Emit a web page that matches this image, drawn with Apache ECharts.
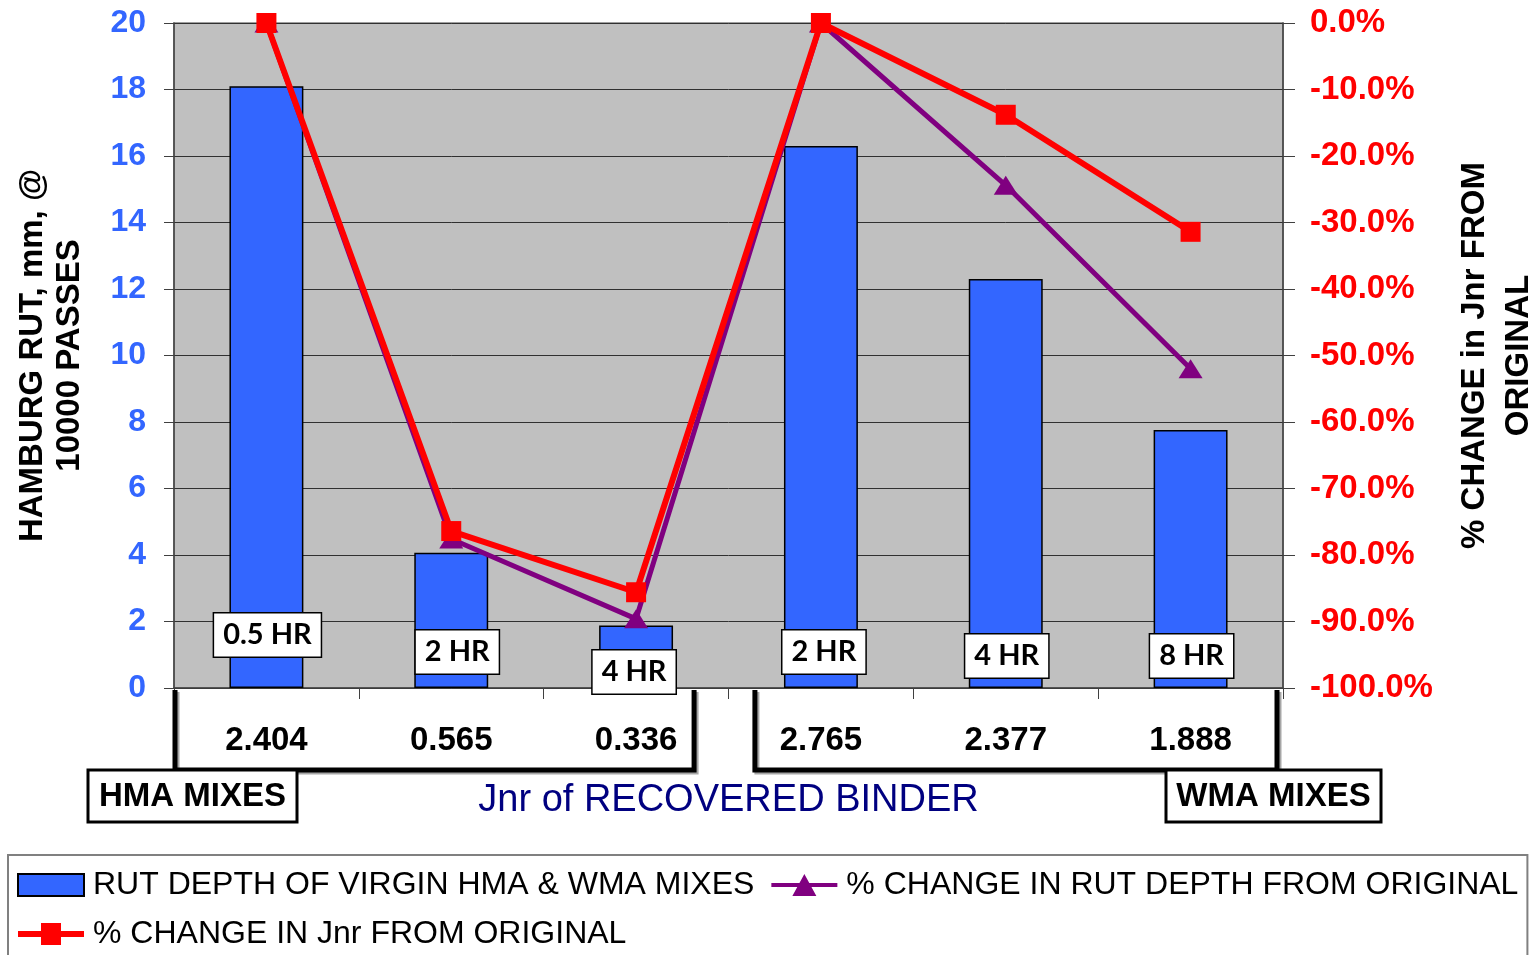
<!DOCTYPE html>
<html>
<head>
<meta charset="utf-8">
<script src="https://cdn.jsdelivr.net/npm/echarts@6/dist/echarts.min.js"></script>
<style>
  html, body { margin: 0; padding: 0; background: #fff; }
  #main { width: 1533px; height: 955px; }
</style>
</head>
<body>
<div id="main"></div>
<script type="text/javascript">
// Jnr of recovered binder (x-axis categories)
var categories = ['2.404', '0.565', '0.336', '2.765', '2.377', '1.888'];
// aging time shown in the boxes on the bars
var hrLabels = ['0.5 HR', '2 HR', '4 HR', '2 HR', '4 HR', '8 HR'];
// rut depth, mm (left axis)
var rutDepth = [18.1, 4.07, 1.88, 16.3, 12.3, 7.76];
// % change in rut depth from original (right axis)
var rutChange = [0, -77.6, -89.6, 0, -24.4, -52.0];
// % change in Jnr from original (right axis)
var jnrChange = [0, -76.4, -85.6, 0, -13.8, -31.4];

// label box shifts [dx, dy] from the bar bottom centre (layout only)
var labelShift = [[1, -53], [6, -36], [-2, -16], [3, -36], [1, -32], [1, -32]];

var AR = '"Liberation Sans", Arial, sans-serif';

var chart = echarts.init(document.getElementById('main'));

var barData = rutDepth.map(function (v, i) {
    return {
        value: v,
        label: { offset: labelShift[i] }
    };
});

var option = {
    animation: false,
    grid: {
        left: 174, right: 250, top: 23, bottom: 267,
        outerBoundsMode: 'none',
        containLabel: false,
        show: true,
        backgroundColor: '#C0C0C0',
        borderColor: '#808080',
        borderWidth: 1.5
    },
    legend: {
        left: 8, right: 3, top: 855,
        padding: [14, 9, 40, 9],
        itemWidth: 66, itemHeight: 22,
        itemGap: 17,
        borderColor: '#808080', borderWidth: 2,
        textStyle: { fontFamily: AR, fontSize: 32, color: '#000', padding: [0, 8, 0, 4] },
        data: [
            { name: 'RUT DEPTH OF VIRGIN HMA & WMA MIXES', icon: 'rect' },
            { name: '% CHANGE IN RUT DEPTH FROM ORIGINAL', icon: 'path://M0,9H66V13H0Z M33,0L45,22H21Z' },
            { name: '% CHANGE IN Jnr FROM ORIGINAL', icon: 'path://M0,8H66V14H0Z M23,0H43V22H23Z' }
        ]
    },
    xAxis: {
        type: 'category',
        data: categories,
        name: 'Jnr of RECOVERED BINDER',
        nameLocation: 'middle',
        nameGap: 94,
        nameTextStyle: { fontFamily: AR, fontSize: 38, color: '#000080' },
        axisLine: { lineStyle: { color: '#404040', width: 1.5 } },
        axisTick: { show: true, length: 11, lineStyle: { color: '#404040' } },
        axisLabel: { margin: 36, fontFamily: AR, fontWeight: 'bold', fontSize: 33, color: '#000' }
    },
    yAxis: [{
        type: 'value',
        min: 0, max: 20, interval: 2,
        name: 'HAMBURG RUT, mm, @\n10000 PASSES',
        nameLocation: 'middle',
        nameRotate: 90,
        nameGap: 86,
        nameTextStyle: { fontFamily: AR, fontWeight: 'bold', fontSize: 33, color: '#000', lineHeight: 37 },
        axisLine: { show: true, lineStyle: { color: '#404040', width: 1.5 } },
        axisTick: { show: true, length: 10, lineStyle: { color: '#404040' } },
        axisLabel: { margin: 28, fontFamily: AR, fontWeight: 'bold', fontSize: 32, color: '#3366FF' },
        splitLine: { show: true, lineStyle: { color: '#303030', width: 1 } }
    }, {
        type: 'value',
        min: -100, max: 0, interval: 10,
        position: 'right',
        name: '% CHANGE in Jnr FROM\nORIGINAL',
        nameLocation: 'middle',
        nameRotate: 90,
        nameGap: 170,
        nameTextStyle: { fontFamily: AR, fontWeight: 'bold', fontSize: 33, color: '#000', lineHeight: 44 },
        axisLine: { show: true, lineStyle: { color: '#404040', width: 1.5 } },
        axisTick: { show: true, length: 12, lineStyle: { color: '#404040' } },
        axisLabel: {
            margin: 27, fontFamily: AR, fontWeight: 'bold', fontSize: 33, color: '#FF0000',
            formatter: function (v) { return v.toFixed(1) + '%'; }
        },
        splitLine: { show: false }
    }],
    series: [{
        name: 'RUT DEPTH OF VIRGIN HMA & WMA MIXES',
        type: 'bar',
        yAxisIndex: 0,
        barWidth: '40%',
        data: barData,
        itemStyle: { color: '#3366FF', borderColor: '#000', borderWidth: 1.5 },
        label: {
            show: true,
            position: ['50%', '100%'],
            align: 'center',
            verticalAlign: 'middle',
            formatter: function (p) { return hrLabels[p.dataIndex]; },
            fontFamily: 'Lato, "Open Sans", sans-serif',
            fontWeight: 'bold',
            fontSize: 29,
            color: '#000',
            backgroundColor: '#fff',
            borderColor: '#000',
            borderWidth: 1.5,
            padding: [8, 9, 6, 9]
        },
        z: 2
    }, {
        name: '% CHANGE IN RUT DEPTH FROM ORIGINAL',
        type: 'line',
        yAxisIndex: 1,
        data: rutChange,
        clip: false,
        symbol: 'triangle',
        symbolSize: [24, 19],
        lineStyle: { color: '#800080', width: 5 },
        itemStyle: { color: '#800080' },
        z: 3
    }, {
        name: '% CHANGE IN Jnr FROM ORIGINAL',
        type: 'line',
        yAxisIndex: 1,
        data: jnrChange,
        clip: false,
        symbol: 'rect',
        symbolSize: 20,
        lineStyle: { color: '#FF0000', width: 6 },
        itemStyle: { color: '#FF0000' },
        z: 4
    }]
};

chart.setOption(option);

// brackets grouping HMA / WMA mixes under the axis
var cx = function (i) { return chart.convertToPixel({ xAxisIndex: 0 }, categories[i]); };
var y0 = chart.convertToPixel({ yAxisIndex: 0 }, 0);
var gl = 174, gr = 1533 - 250;
var yb = y0 + 82;

function bracket(x1, x2) {
    return {
        type: 'polyline',
        shape: { points: [[x1, y0 + 2], [x1, yb], [x2, yb], [x2, y0 + 2]] },
        style: {
            stroke: '#000', lineWidth: 5, fill: null,
            shadowColor: 'rgba(0,0,0,0.35)', shadowOffsetX: 2, shadowOffsetY: 2
        },
        z: 10
    };
}

function tagBox(x, w, txt) {
    return [{
        type: 'rect',
        shape: { x: x, y: yb, width: w, height: 52 },
        style: { fill: '#fff', stroke: '#000', lineWidth: 3 },
        z: 11
    }, {
        type: 'text',
        x: x + w / 2, y: yb + 27,
        style: {
            text: txt, fill: '#000',
            font: 'bold 33px ' + AR,
            align: 'center', verticalAlign: 'middle'
        },
        z: 12
    }];
}

chart.setOption({
    graphic: [
        bracket(gl + 1, cx(2) + 58),
        bracket(cx(3) - 66, gr - 6)
    ].concat(tagBox(gl - 86, 209, 'HMA MIXES'), tagBox(gr - 117, 215, 'WMA MIXES'))
});
</script>
</body>
</html>
